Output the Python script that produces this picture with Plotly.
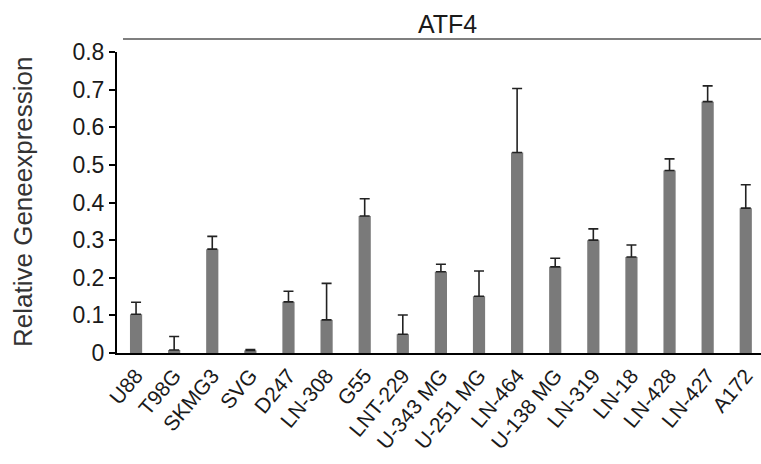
import plotly.graph_objects as go

categories = ["U88", "T98G", "SKMG3", "SVG", "D247", "LN-308", "G55", "LNT-229",
              "U-343 MG", "U-251 MG", "LN-464", "U-138 MG", "LN-319", "LN-18",
              "LN-428", "LN-427", "A172"]
values = [0.103, 0.008, 0.276, 0.007, 0.136, 0.088, 0.364, 0.050,
          0.216, 0.151, 0.533, 0.229, 0.300, 0.255, 0.485, 0.668, 0.385]
errors = [0.032, 0.036, 0.034, 0.002, 0.028, 0.097, 0.046, 0.051,
          0.020, 0.067, 0.170, 0.023, 0.030, 0.032, 0.031, 0.042, 0.062]
y_tickvals = [0, 0.1, 0.2, 0.3, 0.4, 0.5, 0.6, 0.7, 0.8]
y_ticktext = ["0", "0.1", "0.2", "0.3", "0.4", "0.5", "0.6", "0.7", "0.8"]

FONT = "Arial, 'Liberation Sans', sans-serif"
W, H = 761, 464
L, R, T, B = 117, 0, 52, 111
plot_w = W - L - R
plot_h = H - T - B


def px_x(x):
    return (x - L) / plot_w


def px_y(y):
    return (H - B - y) / plot_h


fig = go.Figure(go.Bar(
    x=list(range(len(categories))), y=values,
    width=0.32,
    marker=dict(color="#7a7a7a", line=dict(width=0)),
    error_y=dict(type="data", array=errors, symmetric=False, arrayminus=[0] * len(errors),
                 color="#222222", thickness=1.6, width=5),
))

fig.update_layout(
    width=W, height=H,
    margin=dict(l=L, r=R, t=T, b=B, autoexpand=False),
    paper_bgcolor="white", plot_bgcolor="white",
    showlegend=False,
    font=dict(family=FONT, color="#1a1a1a"),
    annotations=[
        dict(text="ATF4", x=px_x(447), xref="paper", y=px_y(24), yref="paper",
             xanchor="center", yanchor="middle", showarrow=False,
             font=dict(size=25, family=FONT, color="#1a1a1a")),
        dict(text="Relative Geneexpression", x=px_x(23), xref="paper", y=px_y(202), yref="paper",
             xanchor="center", yanchor="middle", showarrow=False, textangle=-90,
             font=dict(size=26, family=FONT, color="#333333")),
    ],
)

fig.add_shape(type="line", xref="paper", yref="paper",
              x0=px_x(123), x1=1.0, y0=px_y(39), y1=px_y(39),
              line=dict(color="#555555", width=1.5))

fig.update_xaxes(
    range=[-0.5, 16.4],
    tickvals=list(range(len(categories))), ticktext=categories,
    tickangle=-50, tickfont=dict(size=21, family=FONT, color="#1a1a1a"),
    showline=True, linecolor="black", linewidth=2, ticks="",
    showgrid=False, zeroline=False, automargin=False,
)
fig.update_yaxes(
    range=[0, 0.8],
    tickvals=y_tickvals, ticktext=y_ticktext,
    tickfont=dict(size=23, family=FONT, color="#1a1a1a"),
    ticks="outside", ticklen=6, tickwidth=2, tickcolor="black",
    showline=True, linecolor="black", linewidth=2,
    showgrid=False, zeroline=False, automargin=False,
)

fig.write_html("out.html", config={"displayModeBar": False},
               post_script="document.body.style.margin='0';document.body.style.padding='0';")
